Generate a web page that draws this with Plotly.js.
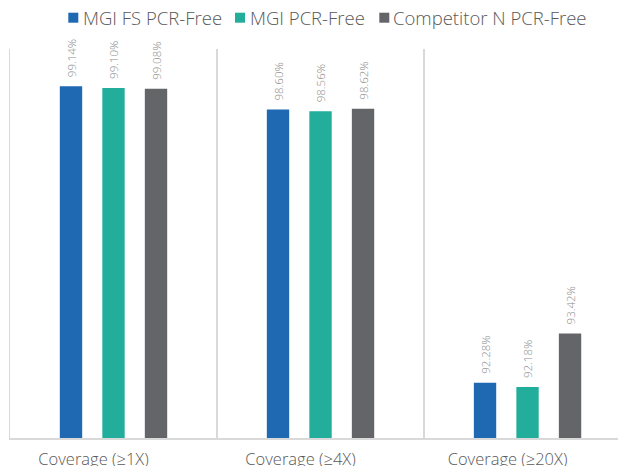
<!DOCTYPE html>
<html>
<head>
<meta charset="utf-8">
<script src="https://cdn.plot.ly/plotly-3.0.1.min.js"></script>
<style>
  html, body { margin: 0; padding: 0; background: #ffffff; overflow: hidden; }
  #chart { width: 618px; height: 466px; }
</style>
</head>
<body>
<div id="chart"></div>
<script>
// Coverage categories and the three library preparations
const categories = ['Coverage (≥1X)', 'Coverage (≥4X)', 'Coverage (≥20X)'];
const seriesNames = ['MGI FS PCR-Free', 'MGI PCR-Free', 'Competitor N PCR-Free'];
const seriesColors = ['#1e69b2', '#22ae9b', '#646569'];

// Percent of genome covered at each depth threshold
const mgiFsValues = [99.14, 98.60, 92.28];
const mgiValues = [99.10, 98.56, 92.18];
const competitorValues = [99.08, 98.62, 93.42];
const seriesValues = [mgiFsValues, mgiValues, competitorValues];

const FONT = '"Open Sans", sans-serif';
const W = 618, H = 466;
const margin = { l: 10, r: 0, t: 49, b: 28 };
const plotW = W - margin.l - margin.r;
const plotH = H - margin.t - margin.b;
const px2paperX = (px) => (px - margin.l) / plotW;
const px2paperY = (py) => 1 + (margin.t - py) / plotH;

const traces = seriesNames.map((name, i) => ({
  type: 'bar',
  name: name,
  x: categories,
  y: seriesValues[i],
  marker: { color: seriesColors[i] },
  text: seriesValues[i].map(v => '\u00a0\u00a0' + v.toFixed(2) + '%'),
  textposition: 'outside',
  textangle: -90,
  constraintext: 'none',
  cliponaxis: false,
  textfont: { family: FONT, size: 11.5, weight: 300, color: '#8c8c8c' },
  hoverinfo: 'skip',
  showlegend: false
}));

// Legend drawn as swatches plus labels across the top
const legendSwatchX = [68.3, 235, 379.3];
const legendTextX = [80.7, 248.3, 390.7];
const shapes = [];
const annotations = [];
seriesNames.forEach((name, i) => {
  shapes.push({
    type: 'rect', xref: 'paper', yref: 'paper',
    x0: px2paperX(legendSwatchX[i]), x1: px2paperX(legendSwatchX[i] + 10),
    y0: px2paperY(22.7), y1: px2paperY(12.7),
    fillcolor: seriesColors[i], line: { width: 0 }
  });
  annotations.push({
    xref: 'paper', yref: 'paper',
    x: px2paperX(legendTextX[i]), y: px2paperY(17.5),
    xanchor: 'left', yanchor: 'middle',
    text: name, showarrow: false,
    font: { family: FONT, size: 18.5, weight: 300, color: '#595959' }
  });
});

const layout = {
  width: W, height: H,
  margin: margin,
  paper_bgcolor: '#ffffff',
  plot_bgcolor: '#ffffff',
  barmode: 'group',
  bargap: 0.384,
  bargroupgap: 0.474,
  showlegend: false,
  xaxis: {
    type: 'category',
    range: [-0.5, 2.437],
    tickson: 'boundaries',
    showgrid: true,
    gridcolor: '#d9d9d9',
    gridwidth: 1.5,
    showline: true,
    linecolor: '#d9d9d9',
    linewidth: 1.5,
    ticks: '',
    ticklabelshift: -20,
    ticklabelstandoff: 6,
    tickfont: { family: FONT, size: 16.5, weight: 300, color: '#595959' },
    fixedrange: true
  },
  yaxis: {
    range: [91, 100],
    showgrid: false,
    zeroline: false,
    showticklabels: false,
    showline: true,
    linecolor: '#d9d9d9',
    linewidth: 1.5,
    ticks: '',
    fixedrange: true
  },
  shapes: shapes,
  annotations: annotations
};

Plotly.newPlot('chart', traces, layout, { displayModeBar: false, staticPlot: true });
</script>
</body>
</html>
